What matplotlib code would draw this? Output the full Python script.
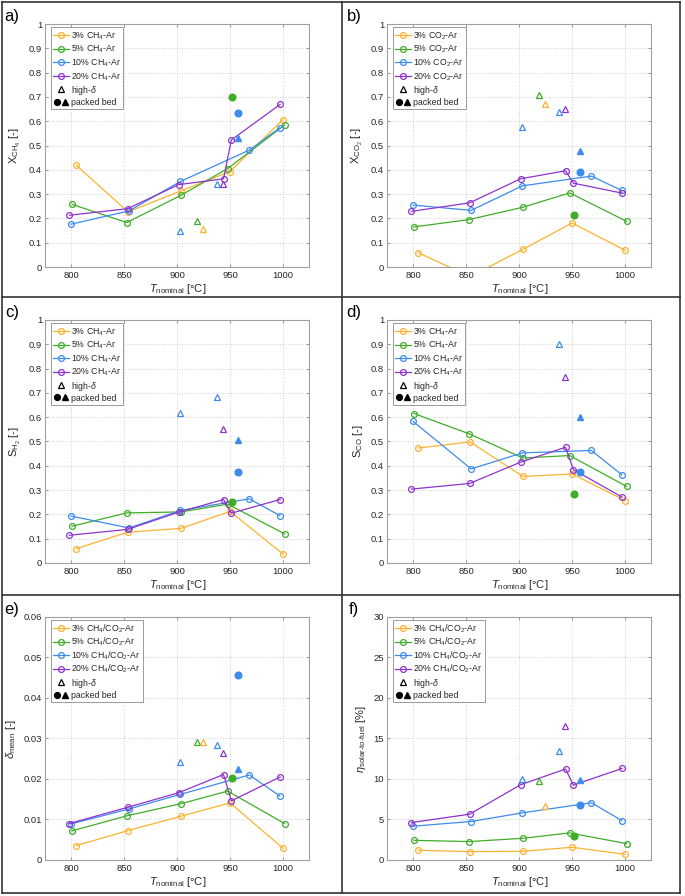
import numpy as np
import matplotlib
matplotlib.use("Agg")
import matplotlib.pyplot as plt
from matplotlib.lines import Line2D
from matplotlib.legend_handler import HandlerTuple
from matplotlib.ticker import FuncFormatter

plt.rcParams['font.family'] = 'Liberation Sans'
plt.rcParams['mathtext.fontset'] = 'custom'
plt.rcParams['mathtext.rm'] = 'Liberation Sans'
plt.rcParams['mathtext.it'] = 'Liberation Sans:italic'
plt.rcParams['mathtext.bf'] = 'Liberation Sans:bold'

nan = np.nan

# nominal temperatures of each series (slightly offset in the original)
T3 = [804.5, 853.5, 903.5, 950.0, 1000.0]
T5 = [800.5, 852.3, 903.5, 947.7, 1001.5]
T10 = [799.5, 854.5, 903.0, 968.2, 997.0]
T20 = [798.0, 853.0, 901.3, 943.8, 951.2, 997.3]
T_hd = [903.0, 918.7, 924.7, 937.7, 943.5]
T_pb_circ = [951.4, 957.4]
T_pb_tri = [957.6]

# a) CH4 conversion
a_3 = [0.419, 0.227, 0.313, 0.393, 0.607]
a_5 = [0.258, 0.183, 0.295, 0.405, 0.584]
a_10 = [0.176, 0.231, 0.352, 0.481, 0.573]
a_20 = [0.213, 0.240, 0.339, 0.363, 0.523, 0.669]
a_hd = [0.147, 0.190, 0.155, 0.343, 0.341]
a_pb_circ = [0.698, 0.632]
a_pb_tri = [0.529]

# b) CO2 conversion
b_3 = [0.059, -0.04, 0.073, 0.181, 0.069]
b_5 = [0.165, 0.195, 0.246, 0.305, 0.188]
b_10 = [0.255, 0.233, 0.334, 0.374, 0.315]
b_20 = [0.229, 0.264, 0.363, 0.396, 0.345, 0.304]
b_hd = [0.578, 0.707, 0.672, 0.637, 0.652]
b_pb_circ = [0.216, 0.390]
b_pb_tri = [0.479]

# c) H2 selectivity
c_3 = [0.059, 0.127, 0.142, 0.212, 0.037]
c_5 = [0.151, 0.206, 0.210, 0.242, 0.120]
c_10 = [0.193, 0.144, 0.216, 0.264, 0.195]
c_20 = [0.114, 0.138, 0.209, 0.261, 0.205, 0.261]
c_hd = [0.619, nan, nan, 0.681, 0.553]
c_pb_circ = [0.249, 0.374]
c_pb_tri = [0.505]

# d) CO selectivity
d_3 = [0.473, 0.498, 0.356, 0.366, 0.257]
d_5 = [0.615, 0.532, 0.432, 0.442, 0.315]
d_10 = [0.583, 0.387, 0.453, 0.463, 0.363]
d_20 = [0.304, 0.327, 0.415, 0.476, 0.384, 0.271]
d_hd = [nan, nan, nan, 0.901, 0.766]
d_pb_circ = [0.283, 0.373]
d_pb_tri = [0.600]

# e) mean delta
e_3 = [0.00355, 0.00726, 0.0108, 0.0141, 0.00289]
e_5 = [0.00718, 0.0109, 0.0139, 0.0170, 0.0090]
e_10 = [0.0089, 0.0126, 0.0162, 0.0210, 0.0158]
e_20 = [0.0090, 0.0130, 0.0166, 0.0211, 0.0146, 0.0205]
e_hd = [0.0243, 0.0291, 0.0291, 0.0284, 0.0265]
e_pb_circ = [0.0203, 0.0457]
e_pb_tri = [0.0225]

# f) solar-to-fuel efficiency
f_3 = [1.20, 1.03, 1.07, 1.57, 0.70]
f_5 = [2.43, 2.27, 2.68, 3.34, 2.02]
f_10 = [4.17, 4.75, 5.82, 7.06, 4.87]
f_20 = [4.62, 5.65, 9.29, 11.23, 9.24, 11.31]
f_hd = [9.99, 9.78, 6.69, 13.5, 16.6]
f_pb_circ = [3.01, 6.77]
f_pb_tri = [9.9]

ORANGE = '#FDB22F'
GREEN = '#3EAD28'
BLUE = '#3D8CEC'
PURPLE = '#8E33CC'
series_colors = [ORANGE, GREEN, BLUE, PURPLE]
hd_colors = [BLUE, GREEN, ORANGE, BLUE, PURPLE]
pb_circ_colors = [GREEN, BLUE]

GAS_CH4 = ['3% CH$_4$-Ar', '5% CH$_4$-Ar', '10% CH$_4$-Ar', '20% CH$_4$-Ar']
GAS_CO2 = ['3% CO$_2$-Ar', '5% CO$_2$-Ar', '10% CO$_2$-Ar', '20% CO$_2$-Ar']
GAS_MIX = ['3% CH$_4$/CO$_2$-Ar', '5% CH$_4$/CO$_2$-Ar',
           '10% CH$_4$/CO$_2$-Ar', '20% CH$_4$/CO$_2$-Ar']

MS = 4.2
LW = 0.9


def draw_panel(ax, series, hd, pb_circ, pb_tri, ylim, yticks, ylabel, labels, tag):
    temps = [T3, T5, T10, T20]
    for T, y, c in zip(temps, series, series_colors):
        ax.plot(T, y, color=c, lw=LW, marker='o', ms=MS, mfc='none', mec=c, mew=0.9)
    for x, y, c in zip(T_hd, hd, hd_colors):
        ax.plot(x, y, ls='none', marker='^', ms=MS, mfc='none', mec=c, mew=0.9)
    for x, y, c in zip(T_pb_circ, pb_circ, pb_circ_colors):
        ax.plot(x, y, ls='none', marker='o', ms=MS + 0.6, color=c)
    ax.plot(T_pb_tri, pb_tri, ls='none', marker='^', ms=MS + 0.4, color=BLUE)

    ax.set_xlim(775, 1025)
    ax.set_ylim(*ylim)
    ax.set_xticks([800, 850, 900, 950, 1000])
    ax.set_yticks(yticks)
    ax.yaxis.set_major_formatter(FuncFormatter(lambda v, p: f'{v:g}'))
    ax.grid(True, ls=':', color='#d0d0d0', lw=0.7)
    ax.set_axisbelow(True)
    for s in ax.spines.values():
        s.set_color('#a0a0a0')
        s.set_linewidth(0.8)
    ax.tick_params(direction='in', length=2.5, width=0.6, color='#8a8a8a',
                   labelsize=6.8, labelcolor='#262626', top=True, right=True)
    ax.tick_params(axis='x', pad=3)
    ax.tick_params(axis='y', pad=2)
    ax.set_xlabel(r'$T_{\mathrm{nominal}}$ [°C]', fontsize=8, color='#262626', labelpad=1)
    ax.set_ylabel(ylabel, fontsize=8, color='#262626', labelpad=4)

    handles = [Line2D([], [], color=c, lw=LW, marker='o', ms=MS, mfc='none', mew=0.9)
               for c in series_colors]
    hd_handle = Line2D([], [], ls='none', marker='^', ms=MS, mfc='none', mec='k', mew=0.9)
    pb_handle = (Line2D([], [], ls='none', marker='o', ms=MS, color='k'),
                 Line2D([], [], ls='none', marker='^', ms=MS, color='k'))
    leg = ax.legend(handles + [hd_handle, pb_handle], labels + [r'high-$\delta$', 'packed bed'],
                    handler_map={tuple: HandlerTuple(ndivide=None, pad=0.2)},
                    loc='upper left', bbox_to_anchor=(0.022, 0.987), fontsize=6.3,
                    frameon=True, fancybox=False, edgecolor='#9a9a9a', framealpha=1,
                    borderpad=0.25, labelspacing=0.12, handlelength=1.8,
                    handletextpad=0.3, borderaxespad=0)
    leg.get_frame().set_linewidth(0.7)
    for t in leg.get_texts():
        t.set_color('#262626')

    bb = ax.get_position()
    ax.figure.text(bb.x0 - 0.048, bb.y1 + 0.008, tag, fontsize=12, ha='center', va='center')


fig = plt.figure(figsize=(6.85, 8.96), dpi=100)

lefts = [0.0657, 0.565]
bottoms = [0.702, 0.3717, 0.0402]
W, H = 0.386, 0.2712

panels = [
    ([a_3, a_5, a_10, a_20], a_hd, a_pb_circ, a_pb_tri, (0, 1), np.arange(0, 1.01, 0.1),
     r'X$_{\mathrm{CH}_4}$ [-]', GAS_CH4, 'a)'),
    ([b_3, b_5, b_10, b_20], b_hd, b_pb_circ, b_pb_tri, (0, 1), np.arange(0, 1.01, 0.1),
     r'X$_{\mathrm{CO}_2}$ [-]', GAS_CO2, 'b)'),
    ([c_3, c_5, c_10, c_20], c_hd, c_pb_circ, c_pb_tri, (0, 1), np.arange(0, 1.01, 0.1),
     r'S$_{\mathrm{H}_2}$ [-]', GAS_CH4, 'c)'),
    ([d_3, d_5, d_10, d_20], d_hd, d_pb_circ, d_pb_tri, (0, 1), np.arange(0, 1.01, 0.1),
     r'S$_{\mathrm{CO}}$ [-]', GAS_CH4, 'd)'),
    ([e_3, e_5, e_10, e_20], e_hd, e_pb_circ, e_pb_tri, (0, 0.06), np.arange(0, 0.061, 0.01),
     r'$\delta_{\mathrm{mean}}$ [-]', GAS_MIX, 'e)'),
    ([f_3, f_5, f_10, f_20], f_hd, f_pb_circ, f_pb_tri, (0, 30), np.arange(0, 31, 5),
     r'$\eta_{\mathrm{solar\text{-}to\text{-}fuel}}$ [%]', GAS_MIX, 'f)'),
]

for i, p in enumerate(panels):
    r, c = divmod(i, 2)
    ax = fig.add_axes([lefts[c], bottoms[r], W, H])
    draw_panel(ax, *p)

# panel frames
fx0, fx1, fxm = 1.7 / 685, 679.5 / 685, 342 / 685
fy0, fy1 = 1 - 892.7 / 896, 1 - 1.7 / 896
h1, h2 = 1 - 297.3 / 896, 1 - 594.5 / 896
frame = dict(color='#333333', lw=1.2, transform=fig.transFigure)
for xs, ys in [((fx0, fx1), (fy1, fy1)), ((fx0, fx1), (fy0, fy0)),
               ((fx0, fx0), (fy0, fy1)), ((fx1, fx1), (fy0, fy1)),
               ((fxm, fxm), (fy0, fy1)), ((fx0, fx1), (h1, h1)), ((fx0, fx1), (h2, h2))]:
    fig.add_artist(Line2D(xs, ys, **frame))

fig.savefig('out.png', dpi=100)
